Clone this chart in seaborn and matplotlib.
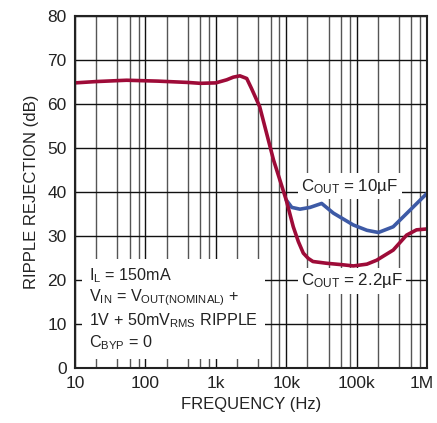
import numpy as np
import pandas as pd
import matplotlib
matplotlib.use("Agg")
import matplotlib.pyplot as plt
import matplotlib.transforms as mtransforms
import seaborn as sns
from matplotlib import font_manager as fm
from matplotlib.ticker import FixedLocator, FixedFormatter, NullFormatter

# ---- data ----
freq_22 = [10, 20, 54, 150, 400, 600, 1000, 1430, 1770, 2200, 2750, 3200, 4200, 6600,
           10000, 12600, 14900, 17500, 20600, 24000, 37600, 60000, 90000, 140000, 193000,
           331000, 513000, 710000, 1000000]
db_22 = [64.8, 65.1, 65.4, 65.2, 64.9, 64.7, 64.8, 65.5, 66.1, 66.4, 65.8, 63.6, 59.4, 47.3,
         38.2, 32.1, 28.7, 26.1, 24.9, 24.2, 23.8, 23.5, 23.2, 23.6, 24.5,
         26.8, 30.2, 31.4, 31.6]
freq_10 = [10000, 12000, 15700, 21800, 31900, 46800, 90000, 140000, 204000,
           331000, 576000, 1000000]
db_10 = [38.2, 36.5, 36.1, 36.5, 37.4, 35.2, 32.5, 31.3, 30.8,
         32.1, 35.9, 39.7]
series_names = ["C_OUT = 2.2µF", "C_OUT = 10µF"]
x_ticks = [10, 100, 1000, 10000, 100000, 1000000]
x_tick_labels = ["10", "100", "1k", "10k", "100k", "1M"]
y_ticks = [0, 10, 20, 30, 40, 50, 60, 70, 80]

df = pd.concat([
    pd.DataFrame({"freq": freq_22, "db": db_22, "cap": series_names[0]}),
    pd.DataFrame({"freq": freq_10, "db": db_10, "cap": series_names[1]}),
], ignore_index=True)

sns.set_style("white")
avail = {f.name for f in fm.fontManager.ttflist}
fam = "Liberation Sans Narrow" if "Liberation Sans Narrow" in avail else "Liberation Sans"
plt.rcParams["font.family"] = [fam, "DejaVu Sans"]
plt.rcParams["mathtext.fontset"] = "custom"
plt.rcParams["mathtext.rm"] = fam
plt.rcParams["mathtext.it"] = fam
plt.rcParams["mathtext.bf"] = fam

fig = plt.figure(figsize=(4.37, 4.23), dpi=100)
ax = fig.add_axes([75 / 437, 55 / 423, 352 / 437, 352 / 423])

red = "#9E0B38"
blue = "#3D5AA6"
sns.lineplot(data=df[df.cap == series_names[1]], x="freq", y="db", color=blue,
             lw=2.6, ax=ax, legend=False, sort=False)
sns.lineplot(data=df[df.cap == series_names[0]], x="freq", y="db", color=red,
             lw=2.6, ax=ax, legend=False, sort=False)
for ln in ax.lines:
    ln.set_solid_joinstyle("round")
    ln.set_solid_capstyle("round")

ax.set_xscale("log")
ax.set_xlim(10, 1e6)
ax.set_ylim(0, 80)
ax.xaxis.set_major_locator(FixedLocator(x_ticks))
ax.xaxis.set_major_formatter(FixedFormatter(x_tick_labels))
minors = [m * d for d in [10, 100, 1000, 10000, 100000] for m in (2, 4, 6, 8)]
ax.xaxis.set_minor_locator(FixedLocator(minors))
ax.xaxis.set_minor_formatter(NullFormatter())
ax.set_yticks(y_ticks)
ax.grid(True, which="major", color="#111111", lw=1.0)
ax.grid(True, which="minor", axis="x", color="#555555", lw=1.0)
ax.set_axisbelow(True)
ax.tick_params(which="both", length=0, labelsize=12.5, colors="#222222", pad=6)
for s in ax.spines.values():
    s.set_visible(True)
    s.set_color("#222222")
    s.set_linewidth(1.5)

# nudge last tick label so it stays inside the figure
fig.canvas.draw()
lbls = ax.get_xticklabels()
lbls[-1].set_transform(lbls[-1].get_transform() +
                       mtransforms.ScaledTranslation(-5 / 100, 0, fig.dpi_scale_trans))

ax.set_xlabel("FREQUENCY (Hz)", fontsize=12, color="#222222", labelpad=4)
ax.set_ylabel("RIPPLE REJECTION (dB)", fontsize=12, color="#222222", labelpad=6)

box = dict(facecolor="white", edgecolor="none", pad=2.5)
ax.text(10 ** (1 + 275 / 70.4), (368 - 186) / 4.4,
        r"C$_{\mathrm{OUT}}$ = 10µF", fontsize=12.2, color="#222222",
        ha="center", va="center", bbox=box, zorder=5)
ax.text(10 ** (1 + 277 / 70.4), (368 - 281) / 4.4,
        r"C$_{\mathrm{OUT}}$ = 2.2µF", fontsize=12.2, color="#222222",
        ha="center", va="center", bbox=box, zorder=5)
cond = ("I$_{\\mathrm{L}}$ = 150mA\n"
        "V$_{\\mathrm{IN}}$ = V$_{\\mathrm{OUT(NOMINAL)}}$ +\n"
        "1V + 50mV$_{\\mathrm{RMS}}$ RIPPLE\n"
        "C$_{\\mathrm{BYP}}$ = 0")
ax.text(10 ** (1 + 14 / 70.4), (368 - 266) / 4.4, cond, fontsize=11.6,
        color="#222222", ha="left", va="top", linespacing=1.22,
        bbox=dict(facecolor="white", edgecolor="none", pad=5), zorder=5)

fig.savefig("out.png", dpi=100)
